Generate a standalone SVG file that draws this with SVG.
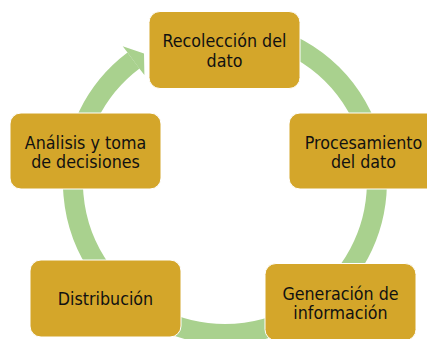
<svg xmlns="http://www.w3.org/2000/svg" width="427" height="339" viewBox="0 0 427 339">
  <style>
    .box { fill: #D4A62A; stroke: #FFFFFF; stroke-width: 1; }
    .lbl { font-family: "DejaVu Sans Condensed", "Liberation Sans", sans-serif; font-size: 17.7px; fill: #111111; text-anchor: middle; }
    .ring { fill: none; stroke: #A9D18E; stroke-width: 20; }
    .head { fill: #A9D18E; }
  </style>
  <rect width="427" height="339" fill="#FFFFFF"/>
  <g id="connectors">
    <path class="ring" d="M 160.76 44.24 A 152 152 0 1 1 133.5 60.6"/>
    <polygon class="head" points="122.7,46.2 144.0,53.4 144.4,75.0 139.3,68.6 127.5,52.6"/>
  </g>
  <g id="node-recoleccion">
    <rect class="box" x="149" y="11.5" width="151" height="77" rx="11"/>
    <text class="lbl" x="224.5" y="47">Recolección del</text>
    <text class="lbl" x="224.5" y="66.5">dato</text>
  </g>
  <g id="node-procesamiento">
    <rect class="box" x="289" y="113" width="151" height="76" rx="11"/>
    <text class="lbl" x="363.5" y="148.5">Procesamiento</text>
    <text class="lbl" x="363.5" y="168">del dato</text>
  </g>
  <g id="node-generacion">
    <rect class="box" x="265" y="263.5" width="151" height="77" rx="11"/>
    <text class="lbl" x="340.5" y="299.5">Generación de</text>
    <text class="lbl" x="340.5" y="319">información</text>
  </g>
  <g id="node-distribucion">
    <rect class="box" x="30" y="260" width="151" height="77" rx="11"/>
    <text class="lbl" x="105.5" y="305">Distribución</text>
  </g>
  <g id="node-analisis">
    <rect class="box" x="10" y="113" width="151" height="76" rx="11"/>
    <text class="lbl" x="85.5" y="148.5">Análisis y toma</text>
    <text class="lbl" x="85.5" y="168">de decisiones</text>
  </g>
</svg>
